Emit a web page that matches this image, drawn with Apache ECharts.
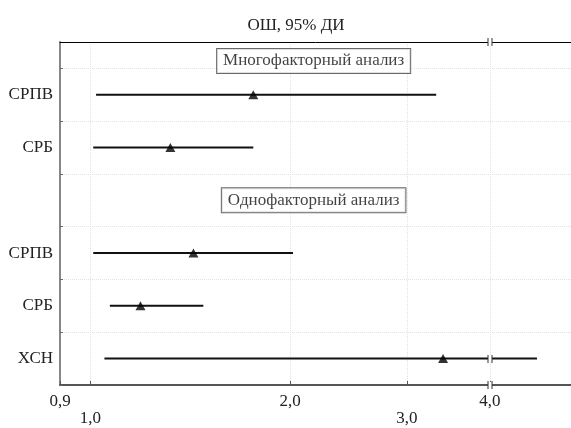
<!DOCTYPE html>
<html>
<head>
<meta charset="utf-8">
<script src="https://cdn.jsdelivr.net/npm/echarts@6/dist/echarts.min.js"></script>
<style>
  html, body { margin: 0; padding: 0; background: #fff; }
  #chart { width: 571px; height: 428px; }
</style>
</head>
<body>
<div id="chart"></div>
<script>
  "use strict";
  // rows from top to bottom, header rows have no values
  var rowNames = ['Многофакторный анализ', 'СРПВ', 'СРБ', 'Однофакторный анализ', 'СРПВ', 'СРБ', 'ХСН'];
  var isHeader = [true, false, false, true, false, false, false];
  var orLow = [null, 1.02, 1.01, null, 1.01, 1.07, 1.05];
  var orMid = [null, 1.76, 1.32, null, 1.43, 1.19, 3.40];
  var orHigh = [null, 3.32, 1.76, null, 2.02, 1.48, 4.71];
  var xTicks = [0.9, 1.0, 2.0, 3.0, 4.0];
  var breakAt = 4.0;

  var font = "'Liberation Serif', 'Times New Roman', serif";
  var headerX = 2.17;

  var bars = [], points = [], headers = [], labelRows = [];
  rowNames.forEach(function (name, i) {
    if (isHeader[i]) {
      headers.push([headerX, i === 0 ? 0.36 : i, name]);
    } else {
      bars.push([orLow[i], orHigh[i], i]);
      points.push([orMid[i], i]);
      labelRows.push(i);
    }
  });
  // break marks: top edge, bottom edge and the long ХСН line
  var breaks = [[breakAt, 0], [breakAt, rowNames.length - 0.5], [breakAt, rowNames.length - 1]];

  var tickRows = [];
  for (var k = 0; k < rowNames.length; k++) tickRows.push(k + 0.5);

  function fmt(v) {
    var s = Number(v).toFixed(1).replace('.', ',');
    // 1,0 and 3,0 sit on a second line
    if (Math.abs(v - 1) < 1e-6 || Math.abs(v - 3) < 1e-6) return '\n' + s;
    return s;
  }

  var option = {
    animation: false,
    title: {
      text: 'ОШ, 95% ДИ',
      left: 291, top: 12, textAlign: 'center',
      textStyle: { fontFamily: font, fontSize: 17, fontWeight: 'normal', color: '#222' }
    },
    grid: { left: 60, right: 0, top: 42, bottom: 43 },
    xAxis: [{
      type: 'log', min: 0.9, max: 5.3,
      axisLine: { onZero: false, lineStyle: { color: '#555', width: 2 } },
      axisTick: { inside: true, length: 4, customValues: xTicks, lineStyle: { color: '#555' } },
      axisLabel: {
        customValues: xTicks, formatter: fmt, margin: 8,
        fontFamily: font, fontSize: 17, color: '#222', lineHeight: 17
      },
      splitLine: { show: true, lineStyle: { color: '#e2e2e2', type: 'dotted' } }
    }, {
      type: 'log', min: 0.9, max: 5.3, position: 'top',
      axisLine: { onZero: false, lineStyle: { color: '#000', width: 1 } },
      axisTick: { show: false }, axisLabel: { show: false }, splitLine: { show: false }
    }],
    yAxis: {
      type: 'value', inverse: true, min: 0, max: rowNames.length - 0.5,
      axisLine: { show: true, onZero: false, lineStyle: { color: '#888', width: 2 } },
      axisTick: { show: true, inside: true, length: 3, customValues: tickRows, lineStyle: { color: '#666' } },
      axisLabel: {
        customValues: labelRows, margin: 7,
        formatter: function (v) { return rowNames[Math.round(v)]; },
        fontFamily: font, fontSize: 17, color: '#222'
      },
      splitLine: { show: true, lineStyle: { color: '#e2e2e2', type: 'dotted' } }
    },
    series: [{
      type: 'custom',
      data: bars,
      encode: { x: [0, 1], y: 2 },
      renderItem: function (params, api) {
        var a = api.coord([api.value(0), api.value(2)]);
        var b = api.coord([api.value(1), api.value(2)]);
        return {
          type: 'line',
          shape: { x1: a[0], y1: a[1], x2: b[0], y2: b[1] },
          style: { stroke: '#111', lineWidth: 2 }
        };
      }
    }, {
      type: 'scatter',
      data: points,
      symbol: 'triangle',
      symbolSize: [10, 9],
      itemStyle: { color: '#000' },
      z: 3
    }, {
      type: 'custom',
      data: breaks,
      clip: false,
      z: 4,
      renderItem: function (params, api) {
        var c = api.coord([api.value(0), api.value(1)]);
        var x = Math.round(c[0]), y = Math.round(c[1]);
        return {
          type: 'group',
          children: [
            { type: 'rect', shape: { x: x - 2, y: y - 3, width: 4, height: 6 }, style: { fill: '#fff' } },
            { type: 'line', shape: { x1: x - 2, y1: y - 4, x2: x - 2, y2: y + 4 }, style: { stroke: '#333', lineWidth: 1 } },
            { type: 'line', shape: { x1: x + 2, y1: y - 4, x2: x + 2, y2: y + 4 }, style: { stroke: '#333', lineWidth: 1 } }
          ]
        };
      }
    }, {
      type: 'scatter',
      data: headers,
      symbolSize: 0,
      z: 5,
      label: {
        show: true, position: 'inside',
        formatter: function (p) { return p.data[2]; },
        fontFamily: font, fontSize: 17, color: '#111',
        backgroundColor: '#fff', borderColor: '#444', borderWidth: 1,
        padding: [4, 6, 3, 6]
      }
    }]
  };

  var chart = echarts.init(document.getElementById('chart'));
  chart.setOption(option);
</script>
</body>
</html>
